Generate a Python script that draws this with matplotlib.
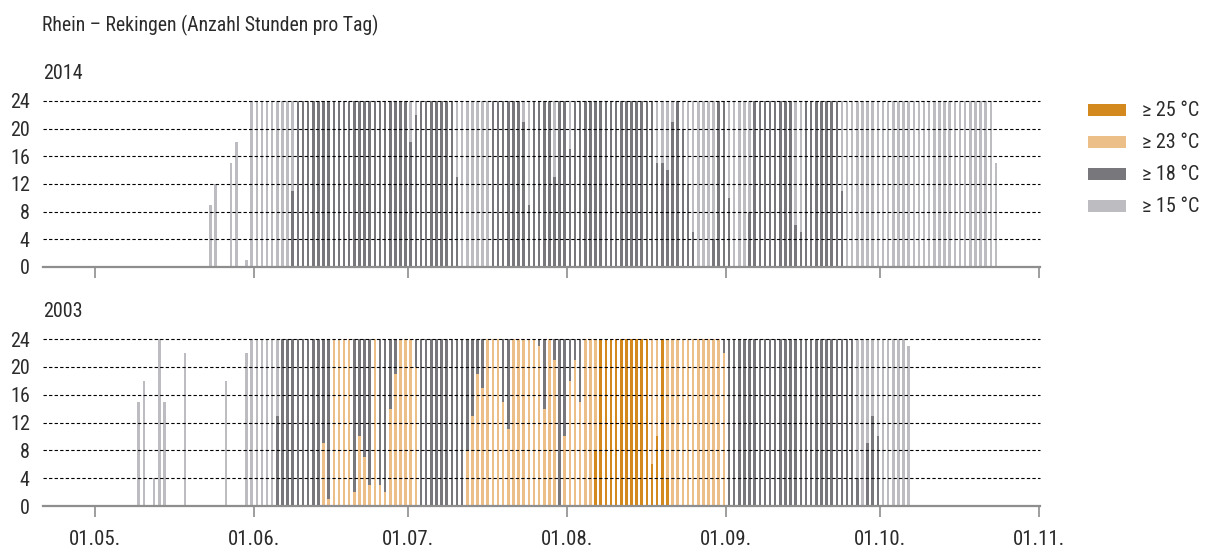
import matplotlib.pyplot as plt
from matplotlib import font_manager
from matplotlib.patches import Rectangle

# condensed face if one is around, otherwise fall back
names = {f.name for f in font_manager.fontManager.ttflist}
for fam in ["Roboto Condensed", "Liberation Sans Narrow", "DejaVu Sans Condensed", "Roboto"]:
    if fam in names:
        break
plt.rcParams['font.family'] = [fam, 'DejaVu Sans']

# day index 0 = 01.05., one value per day up to 31.10. (hours per day above threshold)
month_labels = ["01.05.", "01.06.", "01.07.", "01.08.", "01.09.", "01.10.", "01.11."]
month_starts = [0, 31, 61, 92, 123, 153, 184]

# ---- 2014 ----
h15_2014 = (
    [0, 0, 0, 0, 0, 0, 0, 0, 0, 0, 0, 0, 0, 0, 0, 0, 0, 0, 0, 0, 0, 0, 0, 9, 12, 0, 0, 15, 18, 0, 1]
    + [24, 24, 24, 24, 24, 24, 24, 24, 24, 24, 24, 24, 24, 24, 24, 24, 24, 24, 24, 24, 24, 24, 24, 24, 24, 24, 24, 24, 24, 24]
    + [24, 24, 24, 24, 24, 24, 24, 24, 24, 24, 24, 24, 24, 24, 24, 24, 24, 24, 24, 24, 24, 24, 24, 24, 24, 24, 24, 24, 24, 24, 24]
    + [24, 24, 24, 24, 24, 24, 24, 24, 24, 24, 24, 24, 24, 24, 24, 24, 24, 24, 24, 24, 24, 24, 24, 24, 24, 24, 24, 24, 24, 24, 24]
    + [24, 24, 24, 24, 24, 24, 24, 24, 24, 24, 24, 24, 24, 24, 24, 24, 24, 24, 24, 24, 24, 24, 24, 24, 24, 24, 24, 24, 24, 24]
    + [24, 24, 24, 24, 24, 24, 24, 24, 24, 24, 24, 24, 24, 24, 24, 24, 24, 24, 24, 24, 24, 24, 24, 15, 0, 0, 0, 0, 0, 0, 0]
)
h18_2014 = (
    [0, 0, 0, 0, 0, 0, 0, 0, 0, 0, 0, 0, 0, 0, 0, 0, 0, 0, 0, 0, 0, 0, 0, 0, 0, 0, 0, 0, 0, 0, 0]
    + [0, 0, 0, 0, 0, 0, 0, 0, 11, 24, 24, 24, 24, 24, 24, 24, 24, 24, 24, 24, 24, 24, 24, 24, 24, 24, 24, 24, 24, 24]
    + [24, 18, 22, 24, 24, 24, 24, 24, 24, 24, 13, 0, 0, 0, 0, 0, 0, 24, 24, 24, 24, 24, 24, 21, 9, 24, 24, 24, 24, 13, 24]
    + [24, 17, 24, 24, 24, 24, 24, 24, 24, 24, 24, 24, 24, 24, 24, 24, 24, 24, 15, 15, 14, 21, 24, 20, 12, 5, 0, 0, 0, 4, 24]
    + [24, 10, 0, 0, 0, 8, 24, 24, 24, 24, 24, 24, 24, 24, 6, 5, 24, 24, 24, 24, 24, 24, 24, 11, 0, 0, 0, 0, 0, 0]
    + [0, 0, 0, 0, 0, 0, 0, 0, 0, 0, 0, 0, 0, 0, 0, 0, 0, 0, 0, 0, 0, 0, 0, 0, 0, 0, 0, 0, 0, 0, 0]
)

# ---- 2003 ----
h15_2003 = (
    [0, 0, 0, 0, 0, 0, 0, 0, 0, 15, 18, 0, 4, 24, 15, 0, 0, 0, 22, 0, 0, 0, 0, 0, 0, 0, 18, 0, 0, 0, 22]
    + [24, 24, 24, 24, 24, 24, 24, 24, 24, 24, 24, 24, 24, 24, 24, 24, 24, 24, 24, 24, 24, 24, 24, 24, 24, 24, 24, 24, 24, 24]
    + [24, 24, 24, 24, 24, 24, 24, 24, 24, 24, 24, 24, 24, 24, 24, 24, 24, 24, 24, 24, 24, 24, 24, 24, 24, 24, 24, 24, 24, 24, 24]
    + [24, 24, 24, 24, 24, 24, 24, 24, 24, 24, 24, 24, 24, 24, 24, 24, 24, 24, 24, 24, 24, 24, 24, 24, 24, 24, 24, 24, 24, 24, 24]
    + [24, 24, 24, 24, 24, 24, 24, 24, 24, 24, 24, 24, 24, 24, 24, 24, 24, 24, 24, 24, 24, 24, 24, 24, 24, 24, 24, 24, 24, 24]
    + [24, 24, 24, 24, 24, 24, 23, 0, 0, 0, 0, 0, 0, 0, 0, 0, 0, 0, 0, 0, 0, 0, 0, 0, 0, 0, 0, 0, 0, 0, 0]
)
h18_2003 = (
    [0, 0, 0, 0, 0, 0, 0, 0, 0, 0, 0, 0, 0, 0, 0, 0, 0, 0, 0, 0, 0, 0, 0, 0, 0, 0, 0, 0, 0, 0, 0]
    + [0, 0, 0, 0, 0, 13, 24, 24, 24, 24, 24, 24, 24, 24, 24, 24, 24, 24, 24, 24, 24, 24, 24, 24, 24, 24, 24, 24, 24, 24]
    + [24, 24, 24, 24, 24, 24, 24, 24, 24, 24, 24, 24, 24, 24, 24, 24, 24, 24, 24, 24, 24, 24, 24, 24, 24, 24, 24, 24, 24, 24, 24]
    + [24, 24, 24, 24, 24, 24, 24, 24, 24, 24, 24, 24, 24, 24, 24, 24, 24, 24, 24, 24, 24, 24, 24, 24, 24, 24, 24, 24, 24, 24, 24]
    + [24, 24, 24, 24, 24, 24, 24, 24, 24, 24, 24, 24, 24, 24, 24, 24, 24, 24, 24, 24, 24, 24, 24, 24, 24, 24, 4, 0, 9, 13]
    + [10, 0, 0, 0, 0, 0, 0, 0, 0, 0, 0, 0, 0, 0, 0, 0, 0, 0, 0, 0, 0, 0, 0, 0, 0, 0, 0, 0, 0, 0, 0]
)
h23_2003 = (
    [0, 0, 0, 0, 0, 0, 0, 0, 0, 0, 0, 0, 0, 0, 0, 0, 0, 0, 0, 0, 0, 0, 0, 0, 0, 0, 0, 0, 0, 0, 0]
    + [0, 0, 0, 0, 0, 0, 0, 0, 0, 0, 0, 0, 0, 0, 9, 1, 24, 24, 24, 24, 2, 10, 7, 3, 24, 3, 2, 14, 19, 24]
    + [24, 24, 20, 0, 0, 0, 0, 0, 0, 0, 0, 0, 8, 13, 19, 17, 24, 24, 24, 15, 11, 24, 24, 24, 24, 24, 23, 14, 24, 21, 0]
    + [10, 18, 21, 15, 24, 24, 24, 24, 24, 24, 24, 24, 24, 24, 24, 24, 24, 24, 24, 24, 24, 24, 24, 24, 24, 24, 24, 24, 24, 24, 24]
    + [22, 0, 0, 0, 0, 0, 0, 0, 0, 0, 0, 0, 0, 0, 0, 0, 0, 0, 0, 0, 0, 0, 0, 0, 0, 0, 0, 0, 0, 0]
    + [0, 0, 0, 0, 0, 0, 0, 0, 0, 0, 0, 0, 0, 0, 0, 0, 0, 0, 0, 0, 0, 0, 0, 0, 0, 0, 0, 0, 0, 0, 0]
)
h25_2003 = (
    [0, 0, 0, 0, 0, 0, 0, 0, 0, 0, 0, 0, 0, 0, 0, 0, 0, 0, 0, 0, 0, 0, 0, 0, 0, 0, 0, 0, 0, 0, 0]
    + [0, 0, 0, 0, 0, 0, 0, 0, 0, 0, 0, 0, 0, 0, 0, 0, 0, 0, 0, 0, 0, 0, 0, 0, 0, 0, 0, 0, 0, 0]
    + [0, 0, 0, 0, 0, 0, 0, 0, 0, 0, 0, 0, 0, 0, 0, 0, 0, 0, 0, 0, 0, 0, 0, 0, 0, 0, 0, 0, 0, 0, 0]
    + [0, 0, 0, 0, 0, 0, 8, 24, 24, 24, 24, 24, 24, 24, 24, 24, 24, 6, 10, 24, 4, 0, 0, 0, 0, 0, 0, 0, 0, 0, 0]
    + [0, 0, 0, 0, 0, 0, 0, 0, 0, 0, 0, 0, 0, 0, 0, 0, 0, 0, 0, 0, 0, 0, 0, 0, 0, 0, 0, 0, 0, 0]
    + [0, 0, 0, 0, 0, 0, 0, 0, 0, 0, 0, 0, 0, 0, 0, 0, 0, 0, 0, 0, 0, 0, 0, 0, 0, 0, 0, 0, 0, 0, 0]
)

legend_labels = ["≥ 25 °C", "≥ 23 °C", "≥ 18 °C", "≥ 15 °C"]
c25 = "#d4891f"
c23 = "#ecbf88"
c18 = "#77777c"
c15 = "#bdbdc1"
text_col = "#2b2b2b"
axis_col = "#8e8e8e"
fs = 14.5

fig = plt.figure(figsize=(12.08, 5.48), dpi=100)

def panel(rect, series, year, show_labels):
    ax = fig.add_axes(rect)
    days = [d - 0.45 for d in range(len(series[0][0]))]
    for values, col in series:
        ax.bar(days, values, width=0.5, color=col, linewidth=0, zorder=2)
    for y in [4, 8, 12, 16, 20, 24]:
        ax.axhline(y, color="black", lw=0.8, ls=(0, (3, 2)), zorder=3, clip_on=False)
    ax.set_xlim(-10.1, 184.2)
    ax.set_ylim(0, 24)
    for s in ["top", "right", "left"]:
        ax.spines[s].set_visible(False)
    ax.spines["bottom"].set_color(axis_col)
    ax.spines["bottom"].set_linewidth(1.6)
    ax.spines["bottom"].set_zorder(4)
    ax.set_xticks(month_starts)
    ax.set_xticklabels(month_labels if show_labels else [])
    ax.tick_params(axis="x", direction="out", length=8, width=1.2, color=axis_col,
                   labelsize=15, labelcolor=text_col, pad=9)
    ax.set_yticks([0, 4, 8, 12, 16, 20, 24])
    ax.tick_params(axis="y", length=0, labelsize=fs, labelcolor=text_col, pad=9.5)
    ax.text(-10.1, 26.6, year, fontsize=fs, color=text_col, ha="left", va="bottom")
    return ax

panel([0.0356, 0.5128, 0.8256, 0.303],
      [(h15_2014, c15), (h18_2014, c18)], "2014", False)
panel([0.0356, 0.0766, 0.8256, 0.3047],
      [(h15_2003, c15), (h18_2003, c18), (h23_2003, c23), (h25_2003, c25)], "2003", True)

fig.text(0.0348, 0.953, "Rhein – Rekingen (Anzahl Stunden pro Tag)", fontsize=14.2,
         color=text_col, ha="left", va="center")

# legend boxes on the right
for i, (lab, col) in enumerate(zip(legend_labels, [c25, c23, c18, c15])):
    yc = 548 - (110 + 32 * i)
    fig.add_artist(Rectangle((1088 / 1208, (yc - 6) / 548), 38 / 1208, 12 / 548,
                             transform=fig.transFigure, color=col, lw=0))
    fig.text(1142 / 1208, yc / 548, lab, fontsize=fs, color=text_col, ha="left", va="center")

fig.savefig("out.png", dpi=100)
